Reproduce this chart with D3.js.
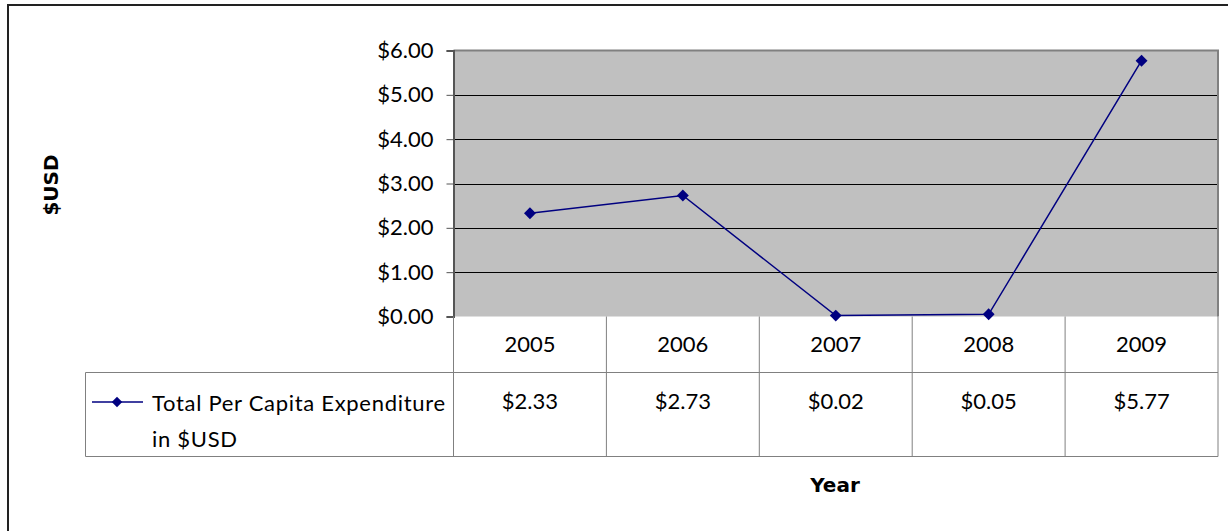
<!DOCTYPE html>
<html><head><meta charset="utf-8">
<script src="https://cdn.jsdelivr.net/npm/d3@7"></script>
<style>
body{margin:0;background:#fff;}
svg{display:block;font-family:Lato,"Open Sans",sans-serif;}
</style></head>
<body><svg id="c" width="1228" height="531"></svg>
<script>
const years = ["2005","2006","2007","2008","2009"];
const values = [2.33, 2.73, 0.02, 0.05, 5.77];
const valueLabels = ["$2.33","$2.73","$0.02","$0.05","$5.77"];
const yTicks = [0,1,2,3,4,5,6];
const seriesName = ["Total Per Capita Expenditure","in $USD"];

const svg = d3.select("#c");
const L = 453.5, R = 1218, T = 50.5, B = 316.5;
const row1B = 372.5, row2B = 456.5, legendL = 85.5;
const FONT = 'Lato,"Open Sans",sans-serif';

// outer chart border
svg.append("rect").attr("x",8).attr("y",5).attr("width",1240).attr("height",560)
  .attr("fill","none").attr("stroke","#222").attr("stroke-width",2);

const x = d3.scaleBand().domain(years).range([L,R]);
const y = d3.scaleLinear().domain([0,6]).range([B,T]);

// plot area
svg.append("rect").attr("x",L).attr("y",T).attr("width",R-L).attr("height",B-T)
  .attr("fill","#c0c0c0");

// gridlines
svg.append("g").selectAll("line").data(yTicks.filter(d=>d>0&&d<6)).join("line")
  .attr("x1",L).attr("x2",R).attr("y1",d=>Math.round(y(d))+0.5).attr("y2",d=>Math.round(y(d))+0.5)
  .attr("stroke","#000").attr("stroke-width",1);

// plot border top/right
svg.append("path").attr("d",`M${L},${T}H${R}V${B}`).attr("fill","none")
  .attr("stroke","#808080").attr("stroke-width",2);

// y axis
const yAxis = d3.axisLeft(y).tickValues(yTicks).tickSize(7).tickPadding(13)
  .tickFormat(d=>"$"+d3.format(".2f")(d));
const gy = svg.append("g").attr("transform",`translate(${L},0)`).call(yAxis);
gy.select(".domain").attr("stroke","#555").attr("stroke-width",2);
gy.selectAll(".tick line").attr("stroke","#555");
gy.selectAll(".tick text").attr("font-size",22).attr("fill","#000").attr("font-family",FONT);

// data table
const tg = svg.append("g").attr("stroke","#808080").attr("stroke-width",1).attr("fill","none");
tg.append("line").attr("x1",legendL).attr("x2",R).attr("y1",row1B).attr("y2",row1B);
tg.append("line").attr("x1",legendL).attr("x2",R).attr("y1",row2B).attr("y2",row2B);
tg.append("line").attr("x1",legendL).attr("x2",legendL).attr("y1",row1B).attr("y2",row2B);
tg.selectAll("line.v").data(years.concat(["end"])).join("line").attr("class","v")
  .attr("x1",(d,i)=>i<5?x(d):R).attr("x2",(d,i)=>i<5?x(d):R)
  .attr("y1",B).attr("y2",row2B);

svg.append("g").selectAll("text").data(years).join("text")
  .attr("x",d=>x(d)+x.bandwidth()/2).attr("y",352).attr("text-anchor","middle")
  .attr("font-size",22).attr("font-family",FONT).text(d=>d);
svg.append("g").selectAll("text").data(valueLabels).join("text")
  .attr("x",(d,i)=>x(years[i])+x.bandwidth()/2).attr("y",409).attr("text-anchor","middle")
  .attr("font-size",22).attr("font-family",FONT).text(d=>d);

// legend key
svg.append("line").attr("x1",92).attr("x2",143).attr("y1",402).attr("y2",402)
  .attr("stroke","#000080").attr("stroke-width",1.5);
svg.append("path").attr("d",d3.symbol(d3.symbolDiamond2,70)()).attr("transform","translate(117,402)")
  .attr("fill","#000080");
svg.append("g").selectAll("text").data(seriesName).join("text")
  .attr("x",152).attr("y",(d,i)=>411+i*36).attr("font-size",22).attr("letter-spacing",0.7)
  .attr("font-family",FONT).text(d=>d);

// line
const cx = d=>x(d)+x.bandwidth()/2;
const line = d3.line().x((d,i)=>cx(years[i])).y(d=>y(d));
svg.append("path").datum(values).attr("d",line).attr("fill","none")
  .attr("stroke","#000080").attr("stroke-width",1.5);
svg.append("g").selectAll("path").data(values).join("path")
  .attr("d",d3.symbol(d3.symbolDiamond2,90)())
  .attr("transform",(d,i)=>`translate(${cx(years[i])},${y(d)})`).attr("fill","#000080");

// axis titles
svg.append("text").attr("transform","translate(58,185) rotate(-90)").attr("text-anchor","middle")
  .attr("font-size",20).attr("font-weight","bold").attr("font-family",'"DejaVu Sans",sans-serif').text("$USD");
svg.append("text").attr("x",835).attr("y",492).attr("text-anchor","middle")
  .attr("font-size",20).attr("font-weight","bold").attr("font-family",'"DejaVu Sans",sans-serif').text("Year");
</script></body></html>
